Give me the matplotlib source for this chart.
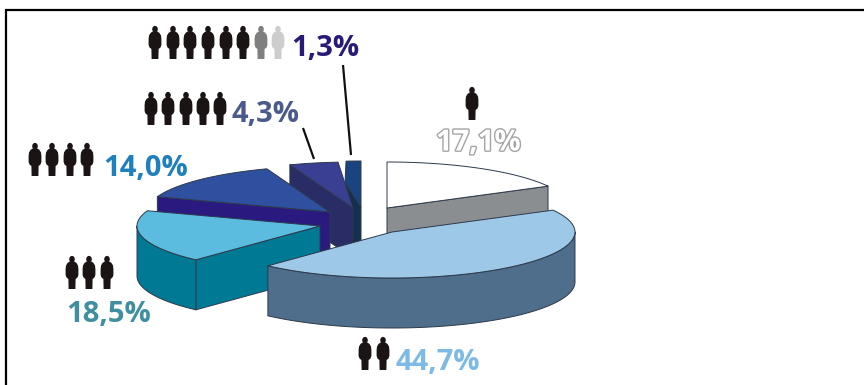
import numpy as np
import matplotlib
matplotlib.use("Agg")
import matplotlib.pyplot as plt
import matplotlib.patheffects as pe
from matplotlib.patches import Ellipse, PathPatch
from matplotlib.path import Path

# Household size shares, clockwise from twelve o'clock
shares = [17.1, 44.7, 18.5, 14.0, 4.3, 1.3]
share_labels = ["17,1%", "44,7%", "18,5%", "14,0%", "4,3%", "1,3%"]
top_colors = ["#ffffff", "#9dc8e8", "#5bbce0", "#2f4f9f", "#3a3f94", "#1a4480"]
side_colors = ["#8a8e90", "#4f6e8c", "#007a94", "#2a1a80", "#2a2c66", "#14304f"]
label_colors = ["#ffffff", "#7dbbe6", "#3f8fa0", "#1f7fbf", "#4a5a8c", "#2a1a78"]

# Exploded wedge apexes and the projected pie, in pixels
apexes = [(387, 208), (392, 232), (320, 226), (330, 212), (353, 208), (361, 207)]
RX, RY, DEPTH = 183, 46, 50
draw_order = [0, 5, 4, 3, 2, 1]

# The narrowest wedge keeps a short straight edge below its rim
top_shoulder = {5: (345, 183)}

# Label anchors (left edge, vertical centre)
label_pos = [(436, 143), (396, 363), (66, 315), (103, 169), (231, 114), (291, 49)]

# Pictogram rows: icon centres and top edge
person_rows = [
    ([472], 87, ["k"]),
    ([365, 383], 337, ["k"] * 2),
    ([72, 89, 107], 256, ["k"] * 3),
    ([35, 52, 70, 87], 143, ["k"] * 4),
    ([151, 168, 186, 203, 220], 92, ["k"] * 5),
    ([155, 173, 190, 208, 226, 243, 261, 278], 26, ["k"] * 6 + ["m", "l"]),
]
person_tones = {"k": "#1a1414", "m": "#7f7f7f", "l": "#cdcdcd"}

leader_lines = [((303, 128), (314, 159)), ((343, 65), (351, 155))]

W, H = 864, 385
fig = plt.figure(figsize=(W / 100, H / 100), dpi=100)
ax = fig.add_axes([0, 0, 1, 1])
ax.set_xlim(0, W)
ax.set_ylim(H, 0)
ax.axis("off")


def rim(c, t):
    t = np.radians(t)
    return c[0] + RX * np.sin(t), c[1] - RY * np.cos(t)


def draw_slice(i, start, end):
    c = apexes[i]
    edge = dict(edgecolor="#2c3a4a", linewidth=0.7, joinstyle="round")
    base = 10 + order_rank[i]

    # Cut faces turned towards the viewer
    for t, visible in ((start, 180 < start < 360), (end, 0 < end < 180)):
        if visible:
            x, y = top_shoulder.get(i, rim(c, t))
            ax.fill([x, c[0], c[0], x], [y, c[1], c[1] + DEPTH, y + DEPTH],
                    facecolor=side_colors[i], zorder=base, **edge)

    # Outer wall, only on the front half of the ellipse
    lo, hi = max(start, 90), min(end, 270)
    if lo < hi:
        x, y = rim(c, np.linspace(lo, hi, 80))
        ax.fill(np.r_[x, x[::-1]], np.r_[y, y[::-1] + DEPTH],
                facecolor=side_colors[i], zorder=base, **edge)

    # Top face
    x, y = rim(c, np.linspace(start, end, 80))
    xs, ys = np.r_[c[0], x], np.r_[c[1], y]
    if i in top_shoulder:
        xs = np.r_[c[0], top_shoulder[i][0], x]
        ys = np.r_[c[1], top_shoulder[i][1], y]
    ax.fill(xs, ys, facecolor=top_colors[i], zorder=base + 0.5, **edge)


def draw_person(cx, top, color, h=33.0):
    s = h / 33.0
    ax.add_patch(Ellipse((cx, top + 3.2 * s), 5.6 * s, 6.6 * s, facecolor=color,
                         edgecolor="none", zorder=20))
    half = [(2.4, 5.5), (4.5, 7), (6, 9.5), (6.4, 13), (6.4, 19), (5.5, 21.5),
            (3.6, 23), (3.4, 33)]
    right = [(vx, vy) for vx, vy in half]
    left = [(-vx, vy) for vx, vy in reversed(half)]
    verts = [(cx + vx * s, top + vy * s) for vx, vy in right + left + right[:1]]
    codes = [Path.MOVETO] + [Path.LINETO] * (len(verts) - 2) + [Path.CLOSEPOLY]
    ax.add_patch(PathPatch(Path(verts, codes), facecolor=color, edgecolor="none",
                           zorder=20))


order_rank = {k: n for n, k in enumerate(draw_order)}
bounds = np.r_[0, np.cumsum(shares)] / sum(shares) * 360
for i in draw_order:
    draw_slice(i, bounds[i], bounds[i + 1])

for n, (label, color, (x, y)) in enumerate(zip(share_labels, label_colors, label_pos)):
    txt = ax.text(x, y, label, color=color, family="Open Sans", fontweight="bold",
                  fontsize=21, ha="left", va="center", zorder=25)
    if n == 0:
        # The smallest-household label is set as an outlined figure
        txt.set_path_effects([pe.withStroke(linewidth=2.0, foreground="#a2a4a6")])

for centres, top, tones in person_rows:
    for cx, tone in zip(centres, tones):
        draw_person(cx, top, person_tones[tone])

for (x0, y0), (x1, y1) in leader_lines:
    ax.plot([x0, x1], [y0, y1], color="#111111", lw=1.6, zorder=25,
            solid_capstyle="butt")

# Frame on the top and left of the figure
ax.plot([6, 6, W], [H, 10, 10], color="black", lw=1.6, zorder=30,
        solid_joinstyle="miter")

fig.savefig("out.png", dpi=100, facecolor="white")
